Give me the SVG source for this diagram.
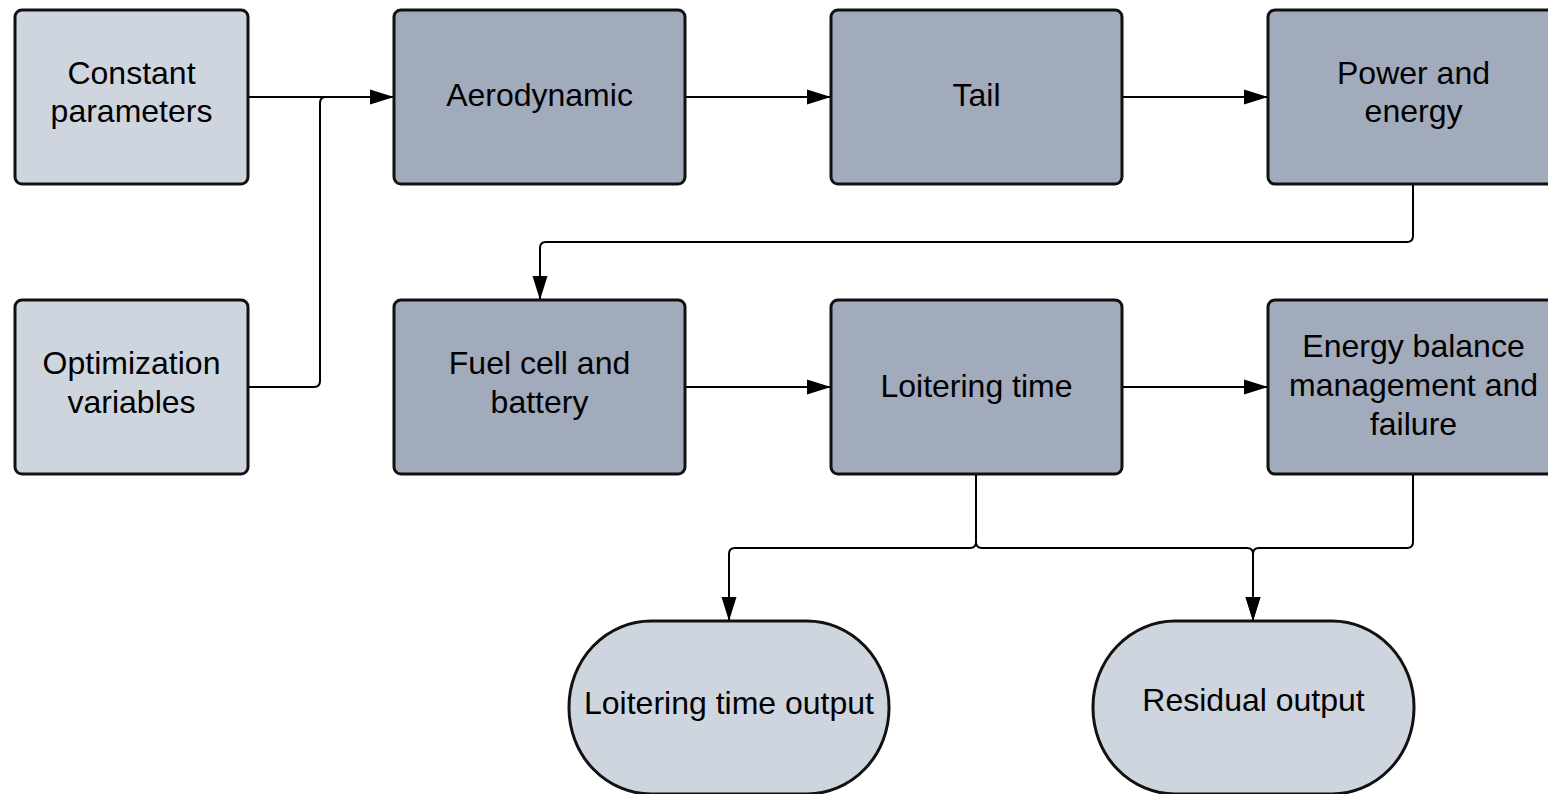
<svg xmlns="http://www.w3.org/2000/svg" width="1548" height="794" viewBox="0 0 1548 794">
<style>
.dark{fill:#A1ABBB;stroke:#111;stroke-width:3}
.light{fill:#CFD5DE;stroke:#111;stroke-width:3}
.lbl{font-family:"Liberation Sans",Arial,sans-serif;font-size:32px;fill:#000;text-anchor:middle;dominant-baseline:central}
.con{fill:none;stroke:#000;stroke-width:2}
</style>
<defs>
<marker id="arr" markerUnits="userSpaceOnUse" markerWidth="26" markerHeight="18" viewBox="0 0 26 18" refX="24" refY="9" orient="auto">
<path d="M0,1.5 L24,9 L0,16.5 Z" fill="#000"/>
</marker>
</defs>
<rect width="1548" height="794" fill="#fff"/>
<g id="connectors">
<path class="con" d="M248,97 H394" marker-end="url(#arr)"/>
<path class="con" d="M248,387 H314 Q320,387 320,381 V103 Q320,97 326,97 H372"/>
<path class="con" d="M685,97 H831" marker-end="url(#arr)"/>
<path class="con" d="M1122,97 H1268" marker-end="url(#arr)"/>
<path class="con" d="M1413,184 V236 Q1413,242 1407,242 H546 Q540,242 540,248 V300" marker-end="url(#arr)"/>
<path class="con" d="M685,387 H831" marker-end="url(#arr)"/>
<path class="con" d="M1122,387 H1268" marker-end="url(#arr)"/>
<path class="con" d="M976,474 V542 Q976,548 970,548 H735 Q729,548 729,554 V621" marker-end="url(#arr)"/>
<path class="con" d="M976,474 V542 Q976,548 982,548 H1247 Q1253,548 1253,554 V621" marker-end="url(#arr)"/>
<path class="con" d="M1413,474 V542 Q1413,548 1407,548 H1259 Q1253,548 1253,554 V621" marker-end="url(#arr)"/>
</g>
<g id="constant-parameters">
<rect class="light" x="15" y="10" width="233" height="174" rx="7"/>
<text class="lbl" x="131.5" y="73">Constant</text>
<text class="lbl" x="131.5" y="111">parameters</text>
</g>
<g id="optimization-variables">
<rect class="light" x="15" y="300" width="233" height="174" rx="7"/>
<text class="lbl" x="131.5" y="363">Optimization</text>
<text class="lbl" x="131.5" y="402">variables</text>
</g>
<g id="aerodynamic">
<rect class="dark" x="394" y="10" width="291" height="174" rx="7"/>
<text class="lbl" x="539.5" y="95">Aerodynamic</text>
</g>
<g id="tail">
<rect class="dark" x="831" y="10" width="291" height="174" rx="7"/>
<text class="lbl" x="976.5" y="95">Tail</text>
</g>
<g id="power-and-energy">
<rect class="dark" x="1268" y="10" width="291" height="174" rx="7"/>
<text class="lbl" x="1413.5" y="73">Power and</text>
<text class="lbl" x="1413.5" y="111">energy</text>
</g>
<g id="fuel-cell-and-battery">
<rect class="dark" x="394" y="300" width="291" height="174" rx="7"/>
<text class="lbl" x="539.5" y="363">Fuel cell and</text>
<text class="lbl" x="539.5" y="402">battery</text>
</g>
<g id="loitering-time">
<rect class="dark" x="831" y="300" width="291" height="174" rx="7"/>
<text class="lbl" x="976.5" y="386">Loitering time</text>
</g>
<g id="energy-balance">
<rect class="dark" x="1268" y="300" width="291" height="174" rx="7"/>
<text class="lbl" x="1413.5" y="346">Energy balance</text>
<text class="lbl" x="1413.5" y="385">management and</text>
<text class="lbl" x="1413.5" y="424">failure</text>
</g>
<g id="loitering-time-output">
<rect class="light" x="569" y="621" width="320" height="173" rx="82" ry="86"/>
<text class="lbl" x="729" y="703">Loitering time output</text>
</g>
<g id="residual-output">
<rect class="light" x="1093" y="621" width="321" height="173" rx="82" ry="86"/>
<text class="lbl" x="1253.5" y="700">Residual output</text>
</g>
</svg>
